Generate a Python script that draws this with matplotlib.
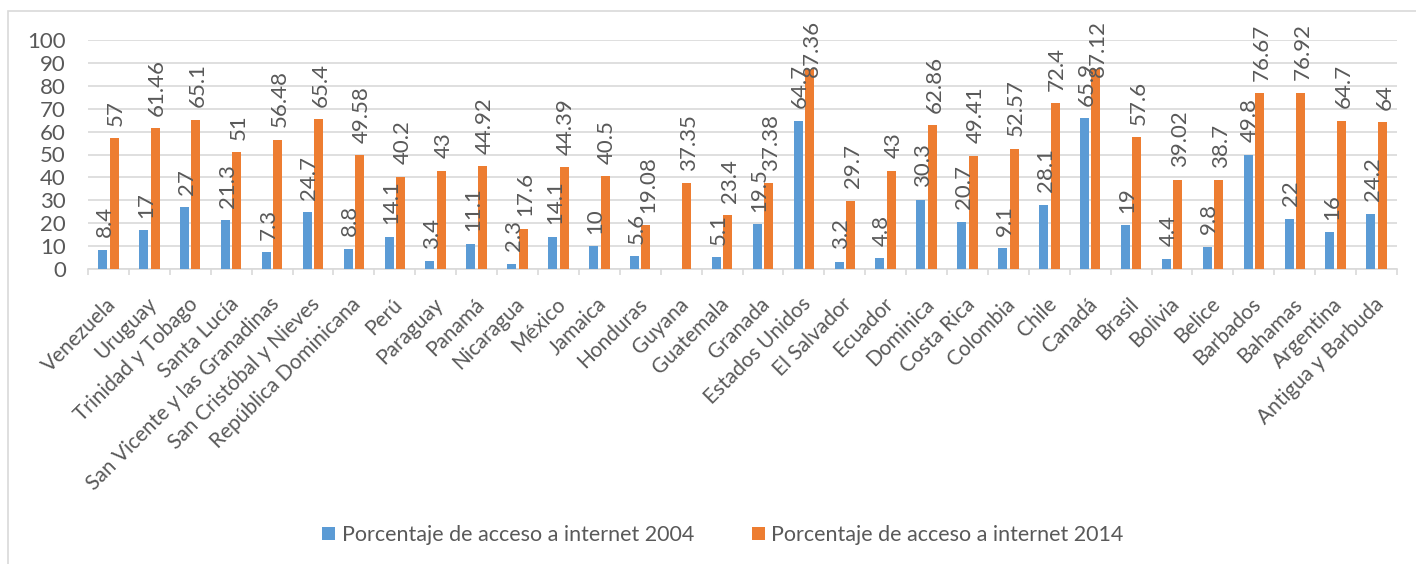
import matplotlib.pyplot as plt
import matplotlib.transforms as mtransforms
from matplotlib.patches import Rectangle
import numpy as np

plt.rcParams['font.family'] = ['Lato', 'DejaVu Sans']

paises = ["Venezuela", "Uruguay", "Trinidad y Tobago", "Santa Lucía",
          "San Vicente y las Granadinas", "San Cristóbal y Nieves",
          "República Dominicana", "Perú", "Paraguay", "Panamá", "Nicaragua",
          "México", "Jamaica", "Honduras", "Guyana", "Guatemala", "Granada",
          "Estados Unidos", "El Salvador", "Ecuador", "Dominica", "Costa Rica",
          "Colombia", "Chile", "Canadá", "Brasil", "Bolivia", "Belice",
          "Barbados", "Bahamas", "Argentina", "Antigua y Barbuda"]

acceso_2004 = [8.4, 17, 27, 21.3, 7.3, 24.7, 8.8, 14.1, 3.4, 11.1, 2.3,
               14.1, 10, 5.6, None, 5.1, 19.5, 64.7, 3.2, 4.8, 30.3, 20.7,
               9.1, 28.1, 65.9, 19, 4.4, 9.8, 49.8, 22, 16, 24.2]

acceso_2014 = [57, 61.46, 65.1, 51, 56.48, 65.4, 49.58, 40.2, 43, 44.92, 17.6,
               44.39, 40.5, 19.08, 37.35, 23.4, 37.38, 87.36, 29.7, 43, 62.86,
               49.41, 52.57, 72.4, 87.12, 57.6, 39.02, 38.7, 76.67, 76.92,
               64.7, 64]

series = ["Porcentaje de acceso a internet 2004",
          "Porcentaje de acceso a internet 2014"]

azul = "#5B9BD5"
naranja = "#ED7D31"
gris_texto = "#595959"
gris_linea = "#D9D9D9"

fig = plt.figure(figsize=(14.16, 5.64), dpi=100)
ax = fig.add_axes([88 / 1416, 1 - 269 / 564, (1397 - 88) / 1416, (269 - 40) / 564])

# marco del grafico (solo se ven el borde superior e izquierdo)
fig.patches.append(Rectangle((8 / 1416, -0.5), 2, 0.5 + 1 - 11 / 564,
                             transform=fig.transFigure, fill=False,
                             edgecolor=gris_linea, linewidth=1.2))

x = np.arange(len(paises))
ancho = 0.22
desp = 0.14

v2004 = np.array([np.nan if v is None else v for v in acceso_2004], dtype=float)
v2014 = np.array(acceso_2014, dtype=float)

b1 = ax.bar(x - desp, np.nan_to_num(v2004), ancho, color=azul, label=series[0], zorder=3)
b2 = ax.bar(x + desp, v2014, ancho, color=naranja, label=series[1], zorder=3)

etiquetas = []

def etiquetar(barras, valores):
    for barra, v in zip(barras, valores):
        if np.isnan(v):
            continue
        t = ax.annotate(f"{v:g}", (barra.get_x() + barra.get_width() / 2, v),
                        xytext=(1.5, 9), textcoords="offset points",
                        rotation=90, ha="center", va="bottom", fontsize=16,
                        color=gris_texto, annotation_clip=False, zorder=4)
        etiquetas.append(t)

etiquetar(b1, v2004)
etiquetar(b2, v2014)

ax.set_xlim(-0.5, len(paises) - 0.5)
ax.set_ylim(0, 100)
ax.set_yticks(np.arange(0, 101, 10))
ax.yaxis.grid(True, color=gris_linea, linewidth=1.2, zorder=0)
ax.set_axisbelow(True)

for s in ["top", "right", "left"]:
    ax.spines[s].set_visible(False)
ax.spines["bottom"].set_color(gris_linea)
ax.spines["bottom"].set_linewidth(1.2)

ax.tick_params(axis="y", length=0, labelsize=16, labelcolor=gris_texto, pad=16)

ax.set_xticks(x)
ax.set_xticks(np.arange(-0.5, len(paises), 1), minor=True)
ax.tick_params(axis="x", which="major", length=0, pad=18)
ax.tick_params(axis="x", which="minor", length=4, width=1.2, color=gris_linea)
ax.set_xticklabels(paises, rotation=45, ha="right", rotation_mode="anchor",
                   fontsize=15, color=gris_texto)
offset = mtransforms.ScaledTranslation(-3 / 100, 0, fig.dpi_scale_trans)
for lbl in ax.get_xticklabels():
    lbl.set_transform(lbl.get_transform() + offset)

fig.legend(handles=[b1, b2], labels=series, loc="center",
           bbox_to_anchor=(723 / 1416, 1 - 535 / 564), ncol=2, frameon=False,
           fontsize=15.5, labelcolor=gris_texto, handlelength=0.6,
           handleheight=0.6, handletextpad=0.3, columnspacing=2.7)

# las etiquetas no deben salir del marco superior del grafico
fig.canvas.draw()
limite = fig.bbox.height - 20
for t in etiquetas:
    caja = t.get_window_extent()
    if caja.y1 > limite:
        dx, dy = t.xyann
        t.xyann = (dx, dy - (caja.y1 - limite) * 72 / fig.dpi)

fig.savefig("out.png", dpi=100)
